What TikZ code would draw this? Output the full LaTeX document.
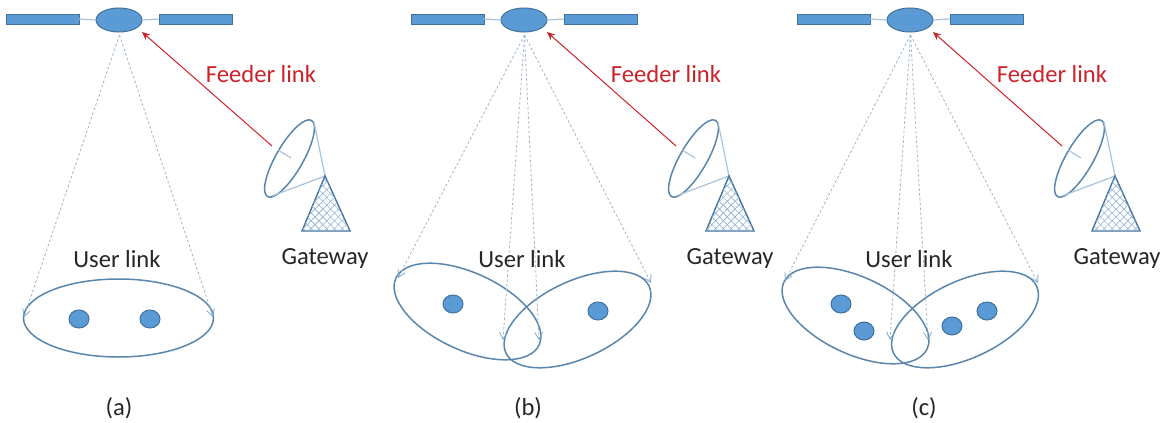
\documentclass[tikz,border=0pt]{standalone}
\usepackage{fontspec}
\setmainfont{Carlito}
\usetikzlibrary{shapes.geometric,arrows.meta,patterns.meta}
\definecolor{bfill}{HTML}{5B9BD5}
\definecolor{bline}{HTML}{41719C}
\definecolor{ringc}{HTML}{5A86AC}
\definecolor{pale}{HTML}{A9C3DA}
\definecolor{dashc}{HTML}{9FB6CB}
\definecolor{tipc}{HTML}{7FA9CF}
\definecolor{feedc}{HTML}{CC2229}
\definecolor{hatchc}{HTML}{8FB3D3}
\tikzset{
  x=1pt,y=-1pt,
  panel/.style={draw=bline,fill=bfill,line width=1pt,inner sep=0pt,minimum width=73pt,minimum height=10pt,outer sep=0pt},
  satbody/.style={ellipse,draw=bline,fill=bfill,line width=1pt,inner sep=0pt,minimum width=46pt,minimum height=24pt,outer sep=0pt},
  strut/.style={draw=pale,line width=1.2pt},
  beam/.style={draw=dashc,line width=0.8pt,dash pattern=on 2.6pt off 2.2pt,-{Straight Barb[length=7pt,width=8pt,color=tipc]}},
  cell/.style={ellipse,draw=ringc,line width=1.5pt,inner sep=0pt,outer sep=0pt},
  wide/.style={cell,minimum width=158pt,minimum height=77pt},
  ue/.style={ellipse,draw=bline,fill=bfill,line width=1pt,inner sep=0pt,minimum width=20pt,minimum height=18pt},
  lbl/.style={font=\fontsize{24.6}{28}\selectfont,text=black!85,inner sep=0pt},
  dish/.style={ellipse,draw=ringc,line width=1.5pt,inner sep=0pt,outer sep=0pt,minimum width=88pt,minimum height=27pt,rotate=60},
  feeder/.style={draw=feedc,line width=1pt,-{Stealth[length=8pt,width=7pt]}},
  mast/.style={draw=bline,line width=1.4pt,
    postaction={pattern={Lines[angle=45,distance=5.5pt,line width=.6pt]},pattern color=hatchc},
    postaction={pattern={Lines[angle=-45,distance=5.5pt,line width=.6pt]},pattern color=hatchc}}
}
% #1 prefix, #2 satellite centre x, #3 gateway apex x, #4 feeder label x, #5 gateway label x
\newcommand{\satgw}[5]{
  \node[satbody] (#1sat) at (#2,20) {};
  \node[panel] (#1pl) at (#2-76.5,19) {};
  \node[panel] (#1pr) at (#2+76.5,19) {};
  \draw[strut] (#1pl.east) -- (#1sat.west);
  \draw[strut] (#1pr.west) -- (#1sat.east);
  \coordinate (#1beam) at (#2+0.5,35);
  \coordinate (#1rx) at (#2+23,32);
  \node[dish] (#1dish) at (#3-35.5,158.5) {};
  \coordinate (#1tx) at (#3-53,146);
  \coordinate (#1fa) at (#3-47,150);
  \coordinate (#1fb) at (#3-34,158);
  \coordinate (#1ra) at (#3-11,122);
  \coordinate (#1rb) at (#3-53,196);
  \coordinate (#1mt) at (#3,176);
  \draw[strut] (#1fa) -- (#1fb);
  \draw[strut] (#1ra) -- (#1mt);
  \draw[strut] (#1rb) -- (#1mt);
  \path[mast] (#3,176) -- (#3+25,231) -- (#3-23,231) -- cycle;
  \draw[feeder] (#1tx) -- (#1rx);
  \node[lbl,text=feedc] (#1flbl) at (#4,74) {Feeder link};
  \node[lbl] (#1glbl) at (#5,258) {Gateway};
}
\begin{document}
\begin{tikzpicture}
\useasboundingbox[fill=white] (0,0) rectangle (1165,423);

% (a)
\satgw{a}{119}{325}{261}{325}
\node[cell,minimum width=190pt,minimum height=78pt] (acell) at (118.5,318) {};
\node[ue] (au1) at (79,319) {};
\node[ue] (au2) at (150,319) {};
\coordinate (ae1) at (24,317);
\coordinate (ae2) at (213,317);
\draw[beam] (abeam) -- (ae1);
\draw[beam] (abeam) -- (ae2);
\node[lbl] (aul) at (117,259) {User link};
\node[lbl] (acap) at (119,408) {(a)};

% (b)
\satgw{b}{524}{729}{666}{730}
\node[wide,rotate=-25] (bcl) at (467.5,311.5) {};
\node[wide,rotate=25] (bcr) at (577.5,319.5) {};
\node[ue] (bu1) at (453,304) {};
\node[ue] (bu2) at (598,311) {};
\coordinate (be1) at (398,278);
\coordinate (be2) at (503,340);
\coordinate (be3) at (539,340);
\coordinate (be4) at (651,283);
\draw[beam] (bbeam) -- (be1);
\draw[beam] (bbeam) -- (be2);
\draw[beam] (bbeam) -- (be3);
\draw[beam] (bbeam) -- (be4);
\node[lbl] (bul) at (522,259) {User link};
\node[lbl] (bcap) at (528,408) {(b)};

% (c)
\satgw{c}{910}{1115}{1052}{1117}
\node[wide,rotate=-25] (ccl) at (855.5,315.5) {};
\node[wide,rotate=25] (ccr) at (965,319.5) {};
\node[ue] (cu1) at (841,304) {};
\node[ue] (cu2) at (864,331) {};
\node[ue] (cu3) at (952,326) {};
\node[ue] (cu4) at (987,311) {};
\coordinate (ce1) at (785,281);
\coordinate (ce2) at (890,340);
\coordinate (ce3) at (928,340);
\coordinate (ce4) at (1038,283);
\draw[beam] (cbeam) -- (ce1);
\draw[beam] (cbeam) -- (ce2);
\draw[beam] (cbeam) -- (ce3);
\draw[beam] (cbeam) -- (ce4);
\node[lbl] (cul) at (909,259) {User link};
\node[lbl] (ccap) at (924,408) {(c)};
\end{tikzpicture}
\end{document}
